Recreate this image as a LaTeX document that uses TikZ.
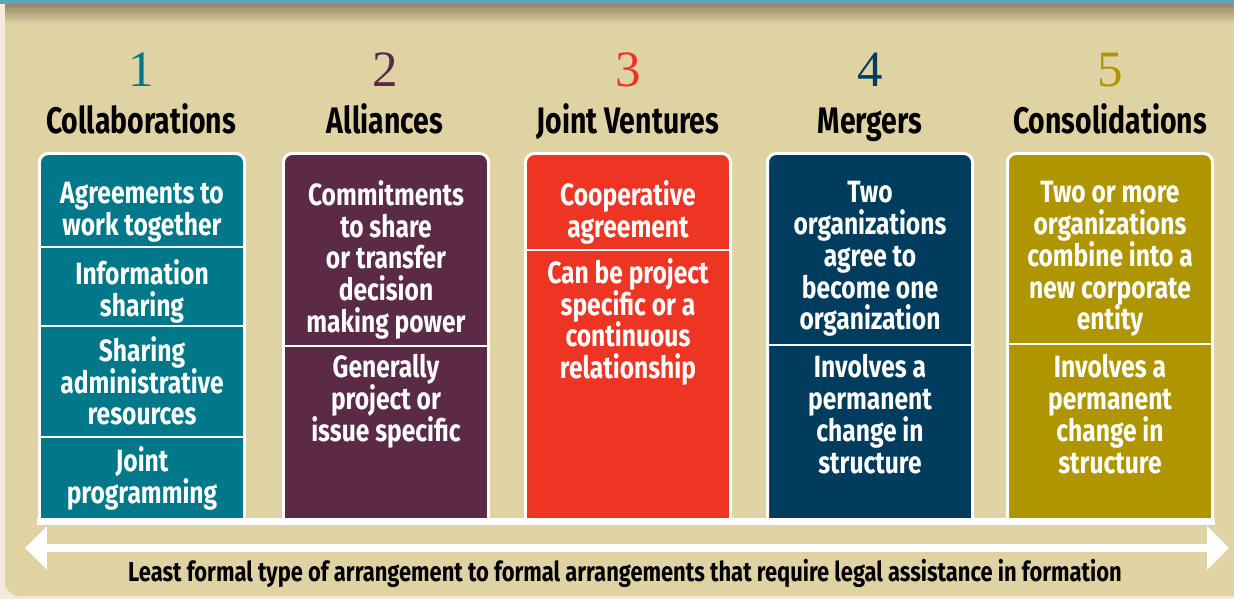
\documentclass[tikz,border=0pt]{standalone}
\usepackage{fontspec}
\usetikzlibrary{arrows.meta}
\newfontfamily\condsf{Fira Sans}[FakeStretch=0.8]
\newfontfamily\headsf{Fira Sans}[FakeStretch=0.77]
\newfontfamily\numserif{Liberation Serif}
\definecolor{panel}{HTML}{E0D3A3}
\definecolor{edge}{HTML}{F6EADF}
\definecolor{topbar}{HTML}{58A8B6}
\definecolor{shadow}{HTML}{958566}
\definecolor{cteal}{HTML}{00788A}
\definecolor{cplum}{HTML}{5B2A46}
\definecolor{cred}{HTML}{EE3524}
\definecolor{cnavy}{HTML}{003C5D}
\definecolor{colive}{HTML}{AF9500}

\begin{document}
\begin{tikzpicture}[
x=0.02cm, y=-0.02cm,
num/.style  = {font=\numserif\fontsize{29}{30}\selectfont, anchor=base},
head/.style = {font=\headsf\bfseries\fontsize{21}{22}\selectfont, anchor=base},
colbox/.style = {draw=white, line width=1.7pt, rounded corners=5pt},
divline/.style = {draw=white, line width=1.3pt},
txt/.style  = {font=\condsf\bfseries\fontsize{17.5}{18.1}\selectfont,
               text=white, align=center, anchor=north, inner sep=0pt},
Arrow/.style = {draw=white, line width=4.5pt,
                {Triangle[length=12.5pt,width=24pt]}-{Triangle[length=12.5pt,width=24pt]}},
                    ]
\useasboundingbox (0,0) rectangle (1234,599);
\clip (0,0) rectangle (1234,599);

% panel, top bar and its shadow
\fill[edge] (0,0) rectangle (1234,599);
\fill[panel, rounded corners=8pt] (5,-20) rectangle (1260,596);
\shade[top color=shadow, bottom color=panel] (5,4) rectangle (1234,24);
\fill[topbar] (0,0) rectangle (1234,4);

% column boxes
\filldraw[colbox, fill=cteal]  (39.5,521) -- (39.5,153.5) -- (244.5,153.5) -- (244.5,521);
\filldraw[colbox, fill=cplum]  (283.5,521) -- (283.5,153.5) -- (488.5,153.5) -- (488.5,521);
\filldraw[colbox, fill=cred]   (525.5,521) -- (525.5,153.5) -- (730.5,153.5) -- (730.5,521);
\filldraw[colbox, fill=cnavy]  (767.5,521) -- (767.5,153.5) -- (972.5,153.5) -- (972.5,521);
\filldraw[colbox, fill=colive] (1007.5,521) -- (1007.5,153.5) -- (1212.5,153.5) -- (1212.5,521);

\draw[divline] (39.5,247) -- (244.5,247);
\draw[divline] (39.5,326) -- (244.5,326);
\draw[divline] (39.5,437) -- (244.5,437);
\draw[divline] (283.5,346) -- (488.5,346);
\draw[divline] (525.5,250) -- (730.5,250);
\draw[divline] (767.5,345) -- (972.5,345);
\draw[divline] (1007.5,344) -- (1212.5,344);

\draw[draw=white, line width=4pt] (37,521.5) -- (1215,521.5);

% numbers and headings
\node[num, text=cteal]  (n1) at (141,86)  {1};
\node[num, text=cplum]  (n2) at (385,86)  {2};
\node[num, text=cred]   (n3) at (628,86)  {3};
\node[num, text=cnavy]  (n4) at (870,86)  {4};
\node[num, text=colive] (n5) at (1110,86) {5};

\node[head] (h1) at (141,133)  {Collaborations};
\node[head] (h2) at (385,133)  {Alliances};
\node[head] (h3) at (628,133)  {Joint Ventures};
\node[head] (h4) at (870,133)  {Mergers};
\node[head] (h5) at (1110,133) {Consolidations};

% box texts
\node[txt] (c1a) at (142,182) {Agreements to\\work together};
\node[txt] (c1b) at (142,259) {Information\\sharing};
\node[txt] (c1c) at (142,336) {Sharing\\administrative\\resources};
\node[txt] (c1d) at (142,446) {Joint\\programming};

\node[txt] (c2a) at (386,180) {Commitments\\to share\\or transfer\\decision\\making power};
\node[txt] (c2b) at (386,354) {Generally\\project or\\issue specific};

\node[txt] (c3a) at (628,180) {Cooperative\\agreement};
\node[txt] (c3b) at (628,258) {Can be project\\specific or a\\continuous\\relationship};

\node[txt] (c4a) at (870,181) {Two\\organizations\\agree to\\become one\\organization};
\node[txt] (c4b) at (870,354) {Involves a\\permanent\\change in\\structure};

\node[txt] (c5a) at (1110,181) {Two or more\\organizations\\combine into a\\new corporate\\entity};
\node[txt] (c5b) at (1110,354) {Involves a\\permanent\\change in\\structure};

% formality arrow
\coordinate (lo) at (25,548);
\coordinate (hi) at (1229,548);
\draw[Arrow] (lo) -- (hi);
\node[font=\condsf\bfseries\fontsize{15.6}{17}\selectfont, anchor=base] (cap)
  at (625,581) {Least formal type of arrangement to formal arrangements that require legal assistance in formation};
\end{tikzpicture}
\end{document}
